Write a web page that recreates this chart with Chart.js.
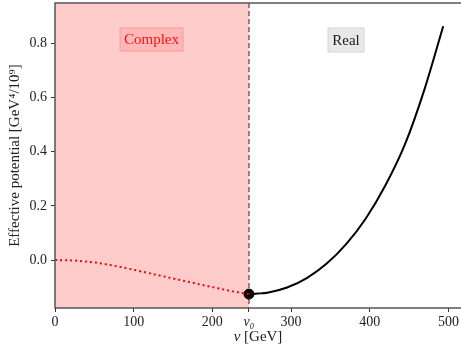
<!DOCTYPE html>
<html>
<head>
<meta charset="utf-8">
<script src="https://cdn.jsdelivr.net/npm/chart.js@4.4.0/dist/chart.umd.min.js"></script>
<style>
  html, body { margin: 0; padding: 0; background: #fff; }
  #wrap { width: 461px; height: 348px; }
</style>
</head>
<body>
<div id="wrap"><canvas id="grafica"></canvas></div>
<script>
// values
const v0 = 246.5;
const vComplex = [0, 25, 50, 75, 100, 125, 150, 175, 200, 225, 246.5];
const potComplex = [0, -0.002, -0.009, -0.021, -0.036, -0.052, -0.068, -0.084, -0.1, -0.115, -0.126];
const vReal = [246.5, 258, 270, 295, 320, 345, 370, 395, 420, 445, 470, 493.4];
const potReal = [-0.1256, -0.1236, -0.1204, -0.1014, -0.0664, -0.0139, 0.0586, 0.1536, 0.276, 0.4286, 0.634, 0.863];
const xTicks = [0, 100, 200, v0, 300, 400, 500];
const yTicks = [0, 0.2, 0.4, 0.6, 0.8];

const serif = "'Liberation Serif', 'DejaVu Serif', serif";

const toPts = (xs, ys) => xs.map((x, i) => ({ x, y: ys[i] }));

const regiones = {
  id: "regiones",
  beforeDatasetsDraw(chart) {
    const { ctx, chartArea: a, scales } = chart;
    const xv = scales.x.getPixelForValue(v0);
    ctx.save();
    ctx.fillStyle = "rgba(255,0,0,0.2)";
    ctx.fillRect(a.left, a.top, xv - a.left, a.bottom - a.top);
    ctx.strokeStyle = "rgba(110,70,70,0.85)";
    ctx.lineWidth = 1.5;
    ctx.setLineDash([5, 3]);
    ctx.beginPath();
    ctx.moveTo(xv, a.top);
    ctx.lineTo(xv, a.bottom);
    ctx.stroke();
    ctx.restore();
  },
  afterDraw(chart) {
    const { ctx, chartArea: a } = chart;
    ctx.save();
    // frame (right side falls off the picture)
    ctx.strokeStyle = "#555";
    ctx.lineWidth = 1.5;
    ctx.beginPath();
    ctx.moveTo(a.right + 2, a.top);
    ctx.lineTo(a.left, a.top);
    ctx.lineTo(a.left, a.bottom);
    ctx.lineTo(a.right + 2, a.bottom);
    ctx.stroke();

    // labels
    ctx.font = "15px " + serif;
    ctx.textAlign = "center";
    ctx.textBaseline = "middle";
    const caja = (txt, cx, cy, w, h, fondo, borde, color) => {
      ctx.fillStyle = fondo;
      ctx.fillRect(cx - w / 2, cy - h / 2, w, h);
      ctx.strokeStyle = borde;
      ctx.lineWidth = 1;
      ctx.strokeRect(cx - w / 2, cy - h / 2, w, h);
      ctx.fillStyle = color;
      ctx.fillText(txt, cx, cy + 1);
    };
    caja("Complex", 151.5, 39.5, 63, 23, "rgba(255,0,0,0.1)", "rgba(230,120,120,0.5)", "#ff1010");
    caja("Real", 346, 40, 36, 24, "#e8e8e8", "#d4d4d4", "#222");

    // x title
    ctx.fillStyle = "#222";
    ctx.textAlign = "left";
    const t1 = "v";
    const t2 = " [GeV]";
    ctx.font = "15px " + serif;
    const w2 = ctx.measureText(t2).width;
    ctx.font = "italic 15px " + serif;
    const w1 = ctx.measureText(t1).width;
    const x0 = 258 - (w1 + w2) / 2;
    ctx.fillText(t1, x0, 337);
    ctx.font = "15px " + serif;
    ctx.fillText(t2, x0 + w1, 337);
    ctx.restore();
  }
};

const config = {
  type: "scatter",
  data: {
    datasets: [
      {
        data: toPts(vComplex, potComplex),
        showLine: true,
        borderColor: "#ff0000",
        borderWidth: 2,
        borderDash: [2, 3],
        pointRadius: 0,
        cubicInterpolationMode: "monotone"
      },
      {
        data: toPts(vReal, potReal),
        showLine: true,
        borderColor: "#000",
        borderWidth: 2,
        pointRadius: 0,
        cubicInterpolationMode: "monotone"
      },
      {
        data: [{ x: v0, y: potReal[0] }],
        pointRadius: 5,
        pointBackgroundColor: "#000",
        pointBorderColor: "#000"
      }
    ]
  },
  options: {
    responsive: true,
    maintainAspectRatio: false,
    animation: false,
    layout: { autoPadding: false, padding: { top: 3, right: 0, left: 0, bottom: 0 } },
    plugins: { legend: { display: false }, tooltip: { enabled: false } },
    scales: {
      x: {
        type: "linear",
        min: 0,
        max: 516,
        afterBuildTicks: (s) => { s.ticks = xTicks.map((v) => ({ value: v })); },
        afterFit: (s) => { s.height = 40; s.paddingLeft = 0; s.paddingRight = 0; },
        grid: { drawOnChartArea: false, drawTicks: true, tickLength: 4, color: "#333" },
        border: { display: false },
        ticks: {
          color: "#222",
          padding: 2,
          maxRotation: 0,
          autoSkip: false,
          font: (c) => ({ family: serif, size: 14, style: c.tick && c.tick.value === v0 ? "italic" : "normal" }),
          callback: (v) => (v === v0 ? "v\u2080" : String(v))
        }
      },
      y: {
        min: -0.177,
        max: 0.949,
        afterBuildTicks: (s) => { s.ticks = yTicks.map((v) => ({ value: v })); },
        afterFit: (s) => { s.width = 55; s.paddingTop = 0; s.paddingBottom = 0; },
        grid: { drawOnChartArea: false, drawTicks: true, tickLength: 4, color: "#333" },
        border: { display: false },
        ticks: {
          color: "#222",
          padding: 4,
          font: { family: serif, size: 14 },
          callback: (v) => v.toFixed(1)
        },
        title: {
          display: true,
          text: "Effective potential [GeV\u2074/10\u2079]",
          color: "#222",
          font: { family: serif, size: 15 },
          padding: { top: 6, bottom: 0 }
        }
      }
    }
  },
  plugins: [regiones]
};

const ctx = document.getElementById("grafica").getContext("2d");
window.miGrafica = new Chart(ctx, config);
</script>
</body>
</html>
